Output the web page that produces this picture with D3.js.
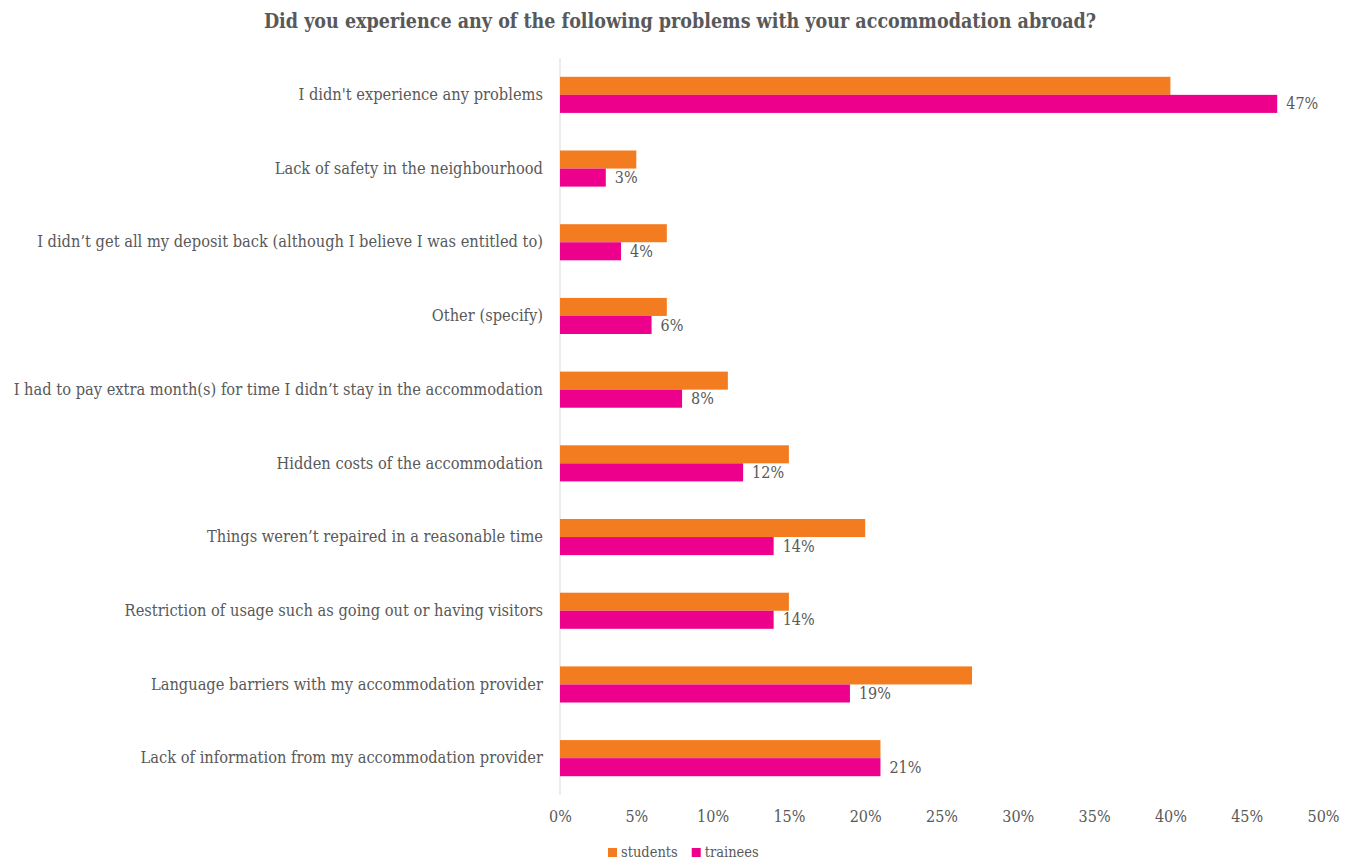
<!DOCTYPE html>
<html><head><meta charset="utf-8">
<script src="https://cdn.jsdelivr.net/npm/d3@7"></script>
<style>body{margin:0;background:#fff;}svg{display:block;}</style>
</head><body>
<svg id="chart" width="1353" height="862"></svg>
<script>
const categories = [
  "I didn't experience any problems",
  "Lack of safety in the neighbourhood",
  "I didn’t get all my deposit back (although I believe I was entitled to)",
  "Other (specify)",
  "I had to pay extra month(s) for time I didn’t stay in the accommodation",
  "Hidden costs of the accommodation",
  "Things weren’t repaired in a reasonable time",
  "Restriction of usage such as going out or having visitors",
  "Language barriers with my accommodation provider",
  "Lack of information from my accommodation provider"
];
const students = [40, 5, 7, 7, 11, 15, 20, 15, 27, 21];
const trainees = [47, 3, 4, 6, 8, 12, 14, 14, 19, 21];
const seriesNames = ["students", "trainees"];
const xTicks = [0, 5, 10, 15, 20, 25, 30, 35, 40, 45, 50];
const title = "Did you experience any of the following problems with your accommodation abroad?";

(function(){
const colors = {students: "#F47C20", trainees: "#EC008C"};
const svg = d3.select("#chart");
const pL = 560, pR = 1323, pT = 58, pB = 795;
const serif = "'DejaVu Serif Condensed', 'DejaVu Serif', serif";
const textColor = "#595959";

const x = d3.scaleLinear().domain([0, 50]).range([pL, pR]);
const y = d3.scaleBand().domain(categories).range([pT, pB]).paddingInner(0.51).paddingOuter(0.255);
const inner = d3.scaleBand().domain(seriesNames).range([0, y.bandwidth()]);

svg.append("text").attr("x", 680).attr("y", 28).attr("text-anchor", "middle")
  .attr("font-family", serif).attr("font-weight", "bold").attr("font-size", 19.5)
  .attr("fill", textColor).text(title);

svg.append("line").attr("x1", pL).attr("x2", pL).attr("y1", pT).attr("y2", pB)
  .attr("stroke", "#d9d9d9").attr("stroke-width", 1);

const data = categories.map((c, i) => ({cat: c, students: students[i], trainees: trainees[i]}));

const g = svg.append("g").selectAll("g").data(data).join("g")
  .attr("transform", d => `translate(0,${y(d.cat)})`);
g.selectAll("rect").data(d => seriesNames.map(s => ({s, v: d[s]}))).join("rect")
  .attr("x", x(0)).attr("y", d => inner(d.s)).attr("height", inner.bandwidth())
  .attr("width", d => x(d.v) - x(0)).attr("fill", d => colors[d.s]);
g.append("text").attr("x", d => x(d.trainees) + 9).attr("y", inner("trainees") + inner.bandwidth()/2)
  .attr("dy", "0.35em").attr("font-family", serif).attr("font-size", 16).attr("fill", textColor)
  .text(d => d.trainees + "%");

const yAxis = svg.append("g").attr("transform", `translate(${pL},0)`)
  .call(d3.axisLeft(y).tickSize(0).tickPadding(17));
yAxis.select(".domain").remove();
yAxis.selectAll("text").attr("font-family", serif).attr("font-size", 16.3).attr("fill", textColor);

const xAxis = svg.append("g").attr("transform", `translate(0,${pB})`)
  .call(d3.axisBottom(x).tickValues(xTicks).tickFormat(d => d + "%").tickSize(0).tickPadding(16));
xAxis.select(".domain").remove();
xAxis.selectAll("text").attr("font-family", serif).attr("font-size", 16).attr("fill", textColor);

const legend = svg.append("g").attr("transform", "translate(608,857)");
let lx = 0;
seriesNames.forEach(s => {
  legend.append("rect").attr("x", lx).attr("y", -9).attr("width", 9).attr("height", 9).attr("fill", colors[s]);
  const t = legend.append("text").attr("x", lx + 13).attr("y", 0).attr("font-family", serif)
    .attr("font-size", 14.5).attr("fill", textColor).text(s);
  lx += 13 + t.node().getComputedTextLength() + 14;
});
})();
</script>
</body></html>
